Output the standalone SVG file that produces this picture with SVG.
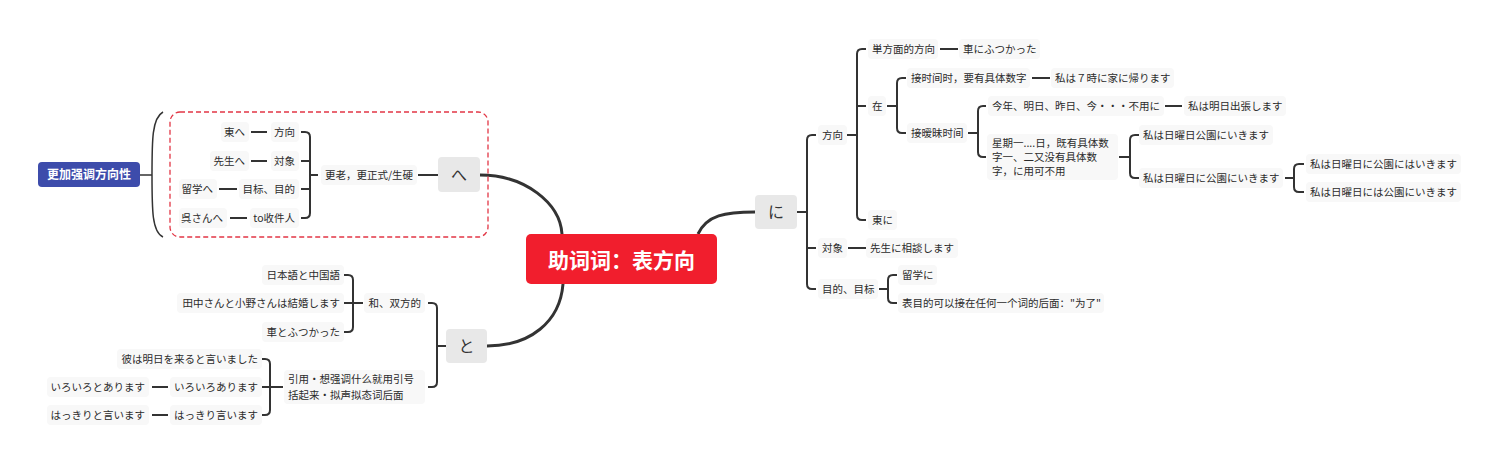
<svg xmlns="http://www.w3.org/2000/svg" width="1500" height="465" viewBox="0 0 1500 465">
<style>
.t{font-family:"Noto Sans CJK SC","Noto Sans CJK JP",sans-serif;font-size:10.5px;fill:#2b2b2b}
.e{text-anchor:end}
.m{text-anchor:middle}
.bg{fill:#f8f8f8}
.ln{stroke:#333;stroke-width:2;fill:none}
.main{stroke:#333;stroke-width:3;fill:none}
.gn{fill:#e8e8e8}
.gt{font-family:"Noto Sans CJK JP","Noto Sans CJK SC",sans-serif;font-size:16px;fill:#333;text-anchor:middle}
</style>
<rect width="1500" height="465" fill="#ffffff"/>

<g id="connectors">
  <path class="main" d="M480,175 C525,175 560,203 562,234"/>
  <path class="main" d="M487,346 C530,346 560,322 563,284"/>
  <path class="main" d="M698,234 C707,215 725,212 755,212"/>
  <path class="ln" d="M418,175 H438"/>
  <path class="ln" d="M301,132 H305 Q310,132 310,137 V213 Q310,218 305,218 H301"/>
  <path class="ln" d="M301,161 H310 M301,189 H310 M310,175 H318"/>
  <path class="ln" d="M251,132 H267 M251,161 H267 M219,189 H237 M230,218 H247"/>
  <path class="ln" d="M140,175 H152" style="stroke-width:1.5"/>
  <path d="M163,112 C152,118 152,140 152,175 C152,210 152,232 163,237" fill="none" stroke="#333" stroke-width="1.5"/>
  <path class="ln" d="M437,346 H446"/>
  <path class="ln" d="M428,303 H432 Q437,303 437,308 V382 Q437,387 432,387 H428"/>
  <path class="ln" d="M344,275 H348 Q353,275 353,280 V327 Q353,332 348,332 H344"/>
  <path class="ln" d="M344,303 H363"/>
  <path class="ln" d="M262,359 H265 Q270,359 270,364 V410 Q270,415 265,415 H262"/>
  <path class="ln" d="M262,387 H283"/>
  <path class="ln" d="M152,387 H168 M152,415 H168"/>
  <path class="ln" d="M797,212 H807"/>
  <path class="ln" d="M816,135 H812 Q807,135 807,140 V284 Q807,289 812,289 H816"/>
  <path class="ln" d="M807,248 H816"/>
  <path class="ln" d="M847,135 H857"/>
  <path class="ln" d="M866,49 H862 Q857,49 857,54 V215 Q857,220 862,220 H866"/>
  <path class="ln" d="M857,106 H866"/>
  <path class="ln" d="M940,49 H958"/>
  <path class="ln" d="M887,106 H897"/>
  <path class="ln" d="M906,78 H902 Q897,78 897,83 V128 Q897,133 902,133 H906"/>
  <path class="ln" d="M1032,78 H1050"/>
  <path class="ln" d="M968,133 H978"/>
  <path class="ln" d="M986,106 H983 Q978,106 978,111 V152 Q978,157 983,157 H986"/>
  <path class="ln" d="M1165,106 H1182"/>
  <path class="ln" d="M1119,157 H1130"/>
  <path class="ln" d="M1139,135 H1135 Q1130,135 1130,140 V173 Q1130,178 1135,178 H1139"/>
  <path class="ln" d="M1285,178 H1294"/>
  <path class="ln" d="M1304,164 H1299 Q1294,164 1294,169 V187 Q1294,192 1299,192 H1304"/>
  <path class="ln" d="M848,248 H866"/>
  <path class="ln" d="M879,289 H888"/>
  <path class="ln" d="M897,275 H893 Q888,275 888,280 V298 Q888,303 893,303 H897"/>
</g>

<g id="root">
  <rect x="526" y="234" width="191" height="50" rx="5" fill="#f11e2d"/>
  <text x="621.5" y="268" text-anchor="middle" font-family="Noto Sans CJK SC, sans-serif" font-size="21" font-weight="bold" fill="#ffffff">助词词：表方向</text>
</g>

<g id="n-he">
  <rect class="gn" x="438" y="157" width="42" height="35" rx="4"/>
  <text class="gt" x="459" y="181">へ</text>
</g>
<g id="n-to">
  <rect class="gn" x="446" y="329" width="41" height="34" rx="4"/>
  <text class="gt" x="466.5" y="352">と</text>
</g>
<g id="n-ni">
  <rect class="gn" x="755" y="195" width="42" height="34" rx="4"/>
  <text class="gt" x="776" y="218">に</text>
</g>

<g id="n-emph">
  <rect x="38" y="162" width="102" height="25" rx="4" fill="#3d4cab"/>
  <text x="89" y="179" text-anchor="middle" font-family="Noto Sans CJK SC, sans-serif" font-size="12" font-weight="bold" fill="#ffffff">更加强调方向性</text>
</g>
<g id="summary-box">
  <rect x="170" y="112" width="318" height="125" rx="10" fill="none" stroke="#e23645" stroke-width="1.3" stroke-dasharray="5,3"/>
</g>

<g id="n-he-main">
  <rect class="bg" x="321" y="165" width="96" height="20" rx="4"/>
  <text class="t" x="325" y="179">更老，更正式/生硬</text>
</g>
<g id="n-he-1"><rect class="bg" x="271" y="122" width="28" height="20" rx="4"/><text class="t e" x="295" y="136">方向</text></g>
<g id="n-he-1a"><rect class="bg" x="221" y="122" width="28" height="20" rx="4"/><text class="t e" x="245" y="136">東へ</text></g>
<g id="n-he-2"><rect class="bg" x="271" y="151" width="28" height="20" rx="4"/><text class="t e" x="295" y="165">対象</text></g>
<g id="n-he-2a"><rect class="bg" x="210" y="151" width="39" height="20" rx="4"/><text class="t e" x="245" y="165">先生へ</text></g>
<g id="n-he-3"><rect class="bg" x="239" y="179" width="60" height="20" rx="4"/><text class="t e" x="295" y="193">目标、目的</text></g>
<g id="n-he-3a"><rect class="bg" x="179" y="179" width="38" height="20" rx="4"/><text class="t e" x="213" y="193">留学へ</text></g>
<g id="n-he-4"><rect class="bg" x="250" y="208" width="49" height="20" rx="4"/><text class="t e" x="295" y="222">to收件人</text></g>
<g id="n-he-4a"><rect class="bg" x="179" y="208" width="48" height="20" rx="4"/><text class="t e" x="223" y="222">呉さんへ</text></g>

<g id="n-to-1"><rect class="bg" x="364" y="293" width="61" height="20" rx="4"/><text class="t e" x="421" y="307">和、双方的</text></g>
<g id="n-to-1a"><rect class="bg" x="262" y="265" width="82" height="20" rx="4"/><text class="t e" x="340" y="279">日本語と中国語</text></g>
<g id="n-to-1b"><rect class="bg" x="177" y="293" width="167" height="20" rx="4"/><text class="t e" x="340" y="307">田中さんと小野さんは結婚します</text></g>
<g id="n-to-1c"><rect class="bg" x="262" y="322" width="82" height="20" rx="4"/><text class="t e" x="340" y="336">車とふつかった</text></g>
<g id="n-to-2">
  <rect class="bg" x="284" y="370" width="141" height="34" rx="4"/>
  <text class="t" x="288" y="383">引用・想强调什么就用引号</text>
  <text class="t" x="288" y="399">括起来・拟声拟态词后面</text>
</g>
<g id="n-to-2a"><rect class="bg" x="117" y="349" width="145" height="20" rx="4"/><text class="t e" x="258" y="363">彼は明日を来ると言いました</text></g>
<g id="n-to-2b"><rect class="bg" x="170" y="377" width="92" height="20" rx="4"/><text class="t e" x="258" y="391">いろいろあります</text></g>
<g id="n-to-2b1"><rect class="bg" x="47" y="377" width="102" height="20" rx="4"/><text class="t e" x="145" y="391">いろいろとあります</text></g>
<g id="n-to-2c"><rect class="bg" x="170" y="405" width="92" height="20" rx="4"/><text class="t e" x="258" y="419">はっきり言います</text></g>
<g id="n-to-2c1"><rect class="bg" x="47" y="405" width="102" height="20" rx="4"/><text class="t e" x="145" y="419">はっきりと言います</text></g>

<g id="n-ni-1"><rect class="bg" x="818" y="125" width="29" height="20" rx="4"/><text class="t" x="822" y="139">方向</text></g>
<g id="n-ni-1a"><rect class="bg" x="868" y="39" width="70" height="20" rx="4"/><text class="t" x="872" y="53">単方面的方向</text></g>
<g id="n-ni-1a1"><rect class="bg" x="959" y="39" width="81" height="20" rx="4"/><text class="t" x="963" y="53">車にふつかった</text></g>
<g id="n-ni-1b"><rect class="bg" x="868" y="96" width="18" height="20" rx="4"/><text class="t" x="872" y="110">在</text></g>
<g id="n-ni-1b1"><rect class="bg" x="907" y="68" width="123" height="20" rx="4"/><text class="t" x="911" y="82">接时间时，要有具体数字</text></g>
<g id="n-ni-1b1a"><rect class="bg" x="1051" y="68" width="123" height="20" rx="4"/><text class="t" x="1055" y="82">私は７時に家に帰ります</text></g>
<g id="n-ni-1b2"><rect class="bg" x="907" y="123" width="60" height="20" rx="4"/><text class="t" x="911" y="137">接暧昧时间</text></g>
<g id="n-ni-1b2a"><rect class="bg" x="988" y="96" width="176" height="20" rx="4"/><text class="t" x="992" y="110">今年、明日、昨日、今・・・不用に</text></g>
<g id="n-ni-1b2a1"><rect class="bg" x="1184" y="96" width="102" height="20" rx="4"/><text class="t" x="1188" y="110">私は明日出張します</text></g>
<g id="n-ni-1b2b">
  <rect class="bg" x="987" y="134" width="131" height="46" rx="4"/>
  <text class="t" x="992" y="147">星期一....日，既有具体数</text>
  <text class="t" x="992" y="161">字一、二又没有具体数</text>
  <text class="t" x="992" y="175">字，に用可不用</text>
</g>
<g id="n-ni-s1"><rect class="bg" x="1139" y="125" width="134" height="20" rx="4"/><text class="t" x="1143" y="139">私は日曜日公園にいきます</text></g>
<g id="n-ni-s2"><rect class="bg" x="1139" y="168" width="144" height="20" rx="4"/><text class="t" x="1143" y="182">私は日曜日に公園にいきます</text></g>
<g id="n-ni-s2a"><rect class="bg" x="1306" y="154" width="155" height="20" rx="4"/><text class="t" x="1310" y="168">私は日曜日に公園にはいきます</text></g>
<g id="n-ni-s2b"><rect class="bg" x="1306" y="182" width="155" height="20" rx="4"/><text class="t" x="1310" y="196">私は日曜日には公園にいきます</text></g>
<g id="n-ni-1c"><rect class="bg" x="868" y="210" width="29" height="20" rx="4"/><text class="t" x="872" y="224">東に</text></g>
<g id="n-ni-2"><rect class="bg" x="818" y="238" width="29" height="20" rx="4"/><text class="t" x="822" y="252">対象</text></g>
<g id="n-ni-2a"><rect class="bg" x="866" y="238" width="92" height="20" rx="4"/><text class="t" x="870" y="252">先生に相談します</text></g>
<g id="n-ni-3"><rect class="bg" x="818" y="279" width="60" height="20" rx="4"/><text class="t" x="822" y="293">目的、目标</text></g>
<g id="n-ni-3a"><rect class="bg" x="898" y="265" width="39" height="20" rx="4"/><text class="t" x="902" y="279">留学に</text></g>
<g id="n-ni-3b"><rect class="bg" x="898" y="293" width="206" height="20" rx="4"/><text class="t" x="902" y="307">表目的可以接在任何一个词的后面："为了"</text></g>
</svg>
